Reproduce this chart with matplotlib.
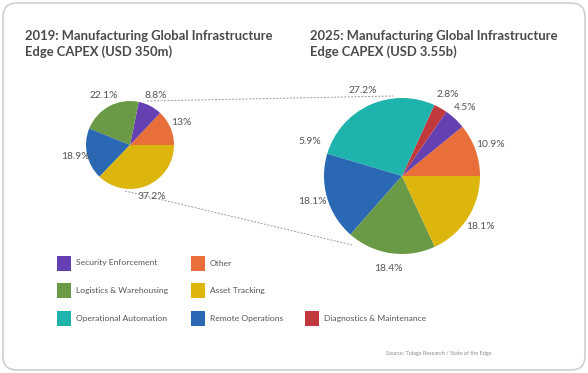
import matplotlib
matplotlib.use("Agg")
import numpy as np
import matplotlib.pyplot as plt
from matplotlib.patches import FancyBboxPatch, Rectangle

plt.rcParams["font.family"] = ["Lato", "DejaVu Sans"]

W, H = 588, 373

# -- data --------------------------------------------------------------------
cats_2019 = ["Other", "Security Enforcement", "Logistics & Warehousing",
             "Remote Operations", "Asset Tracking"]
shares_2019 = [13.0, 8.8, 22.1, 18.9, 37.2]
labels_2019 = ["13%", "8.8%", "22.1%", "18.9%", "37.2%"]

cats_2025 = ["Other", "Security Enforcement", "Diagnostics & Maintenance",
             "Operational Automation", "Remote Operations",
             "Logistics & Warehousing", "Asset Tracking"]
shares_2025 = [10.9, 4.5, 2.8, 27.2, 18.1, 18.4, 18.1]
labels_2025 = ["10.9%", "4.5%", "2.8%", "27.2%", "18.1%", "18.4%", "18.1%"]
stray_label_2025 = "5.9%"  # printed on the original chart, no matching slice

legend_rows = [
    ["Security Enforcement", "Other"],
    ["Logistics & Warehousing", "Asset Tracking"],
    ["Operational Automation", "Remote Operations", "Diagnostics & Maintenance"],
]

colors = {
    "Security Enforcement": "#6440b0",
    "Other": "#e86f3a",
    "Logistics & Warehousing": "#6b9a47",
    "Asset Tracking": "#dcb60c",
    "Operational Automation": "#1fb3ad",
    "Remote Operations": "#2a68b3",
    "Diagnostics & Maintenance": "#c0393d",
}

title_2019 = "2019: Manufacturing Global Infrastructure\nEdge CAPEX (USD 350m)"
title_2025 = "2025: Manufacturing Global Infrastructure\nEdge CAPEX (USD 3.55b)"
source = "Source: Tolaga Research / State of the Edge"


def Y(y):
    """pixel row (top-down) -> data y (bottom-up)"""
    return H - y


def draw_pie(ax, shares, cats, labels, cx, cy, r, dist):
    wedges, _ = ax.pie(
        shares, colors=[colors[c] for c in cats], center=(cx, Y(cy)),
        radius=r, startangle=0, counterclock=True, frame=True,
        wedgeprops=dict(linewidth=0),
        shadow=dict(ox=1.0, oy=-1.0, shade=0.55),
    )
    for w, lab in zip(wedges, labels):
        mid = np.deg2rad((w.theta1 + w.theta2) / 2)
        ax.text(cx + dist * r * np.cos(mid), Y(cy) + dist * r * np.sin(mid), lab,
                ha="center", va="center", fontsize=7.4, color="#555555")
    return wedges


fig = plt.figure(figsize=(W / 100, H / 100), dpi=100)
fig.patch.set_facecolor("white")
ax = fig.add_axes([0, 0, 1, 1])

# card frame
ax.add_patch(FancyBboxPatch((3, 3), W - 6, H - 6,
                            boxstyle="round,pad=0,rounding_size=14",
                            facecolor="white", edgecolor="#cfcfcf", linewidth=1.2))

# connector lines between the two pies
ax.plot([147, 393], [Y(101), Y(96)], color="#9a9a9a", lw=0.7, ls=(0, (2, 1.5)))
ax.plot([125, 352], [Y(191), Y(245)], color="#9a9a9a", lw=0.7, ls=(0, (2, 1.5)))

draw_pie(ax, shares_2019, cats_2019, labels_2019, 130, 145, 44, 1.27)
wedges25 = draw_pie(ax, shares_2025, cats_2025, labels_2025, 402, 176, 78, 1.2)

# stray label sitting next to the teal/blue border
teal = wedges25[cats_2025.index("Operational Automation")]
ang = np.deg2rad(teal.theta2 - 4)
ax.text(402 + 1.26 * 78 * np.cos(ang), Y(176) + 1.26 * 78 * np.sin(ang),
        stray_label_2025, ha="center", va="center", fontsize=7.4, color="#555555")

# titles
for x, t in ((25, title_2019), (310, title_2025)):
    ax.text(x, Y(30), t, ha="left", va="top", fontsize=9.4, fontweight="bold",
            color="#4a4a4a", linespacing=1.35)

# legend
col_x = [57, 191, 305]
row_y = [263, 290, 318]
for ry, row in zip(row_y, legend_rows):
    for cx, name in zip(col_x, row):
        ax.add_patch(Rectangle((cx, Y(ry) - 7.5), 14, 15, facecolor=colors[name],
                               edgecolor="none"))
        ax.text(cx + 19, Y(ry), name, ha="left", va="center", fontsize=6.1,
                color="#555555")

ax.text(492, Y(353), source, ha="right", va="center", fontsize=4, color="#8a8a8a")

ax.set_xlim(0, W)
ax.set_ylim(0, H)
ax.set_aspect("auto")
ax.axis("off")

fig.savefig("out.png", dpi=100)
